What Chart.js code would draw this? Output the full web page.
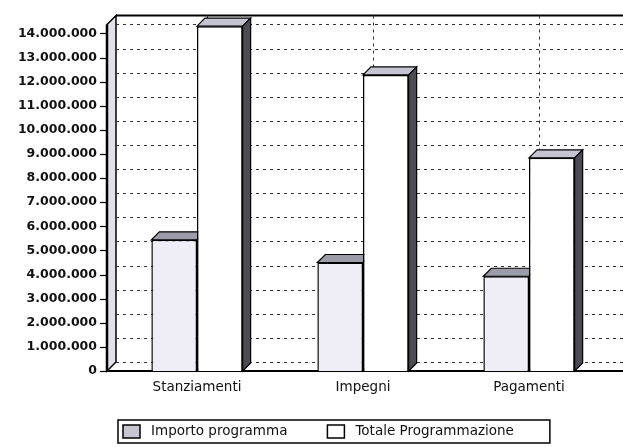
<!DOCTYPE html>
<html>
<head>
<meta charset="utf-8">
<script src="https://cdn.jsdelivr.net/npm/chart.js@4.4.1/dist/chart.umd.min.js"></script>
<style>
  html, body { margin: 0; padding: 0; background: #fff; }
  canvas { display: block; }
</style>
</head>
<body>
<canvas id="chart" width="623" height="447"></canvas>
<script>
const categories = ["Stanziamenti", "Impegni", "Pagamenti"];
const seriesLabels = ["Importo programma", "Totale Programmazione"];
const importoProgramma = [5440000, 4500000, 3930000];
const totaleProgrammazione = [14300000, 12280000, 8840000];
const yTicks = [
  0, 1000000, 2000000, 3000000, 4000000, 5000000, 6000000, 7000000,
  8000000, 9000000, 10000000, 11000000, 12000000, 13000000, 14000000,
];

const depth = 8;
const wallDepth = 9;

const formatNumber = (v) => String(v).replace(/\B(?=(\d{3})+(?!\d))/g, ".");

const poly = (ctx, pts, fill) => {
  ctx.beginPath();
  ctx.moveTo(pts[0][0], pts[0][1]);
  pts.slice(1).forEach((p) => ctx.lineTo(p[0], p[1]));
  ctx.closePath();
  ctx.fillStyle = fill;
  ctx.fill();
  ctx.stroke();
};

// walls, dotted grid and the top/side faces of the bars
const box3d = {
  id: "box3d",
  beforeDatasetsDraw(chart) {
    const { ctx, chartArea: a, scales } = chart;
    const x0 = a.left - 7;
    const xb = x0 + wallDepth;
    const top = a.top - wallDepth;
    const bottom = a.bottom - wallDepth;

    ctx.save();
    ctx.strokeStyle = "#000";

    // left wall
    ctx.lineWidth = 1.5;
    poly(ctx, [[x0, a.top], [xb, top], [xb, bottom], [x0, a.bottom]], "#e2e1ea");
    ctx.lineWidth = 2.5;
    ctx.beginPath();
    ctx.moveTo(x0, a.top);
    ctx.lineTo(x0, a.bottom);
    ctx.stroke();

    // top border of the back wall
    ctx.lineWidth = 2;
    ctx.beginPath();
    ctx.moveTo(xb, top);
    ctx.lineTo(chart.width, top);
    ctx.stroke();

    // dotted grid on the back wall
    ctx.lineWidth = 1;
    ctx.strokeStyle = "#333";
    ctx.setLineDash([3, 4]);
    yTicks.forEach((v) => {
      const y = Math.round(scales.y.getPixelForValue(v) - wallDepth) + 0.5;
      ctx.beginPath();
      ctx.moveTo(xb, y);
      ctx.lineTo(chart.width, y);
      ctx.stroke();
    });
    categories.forEach((c, i) => {
      const x = Math.round(scales.x.getPixelForValue(i) + wallDepth + 1) + 0.5;
      ctx.beginPath();
      ctx.moveTo(x, top);
      ctx.lineTo(x, bottom);
      ctx.stroke();
    });
    ctx.setLineDash([]);

    // floor front edge
    ctx.strokeStyle = "#000";
    ctx.lineWidth = 2;
    ctx.beginPath();
    ctx.moveTo(x0, a.bottom);
    ctx.lineTo(chart.width, a.bottom);
    ctx.stroke();

    // y tick marks
    ctx.lineWidth = 1.2;
    yTicks.forEach((v) => {
      const y = Math.round(scales.y.getPixelForValue(v)) + 0.5;
      ctx.beginPath();
      ctx.moveTo(x0 - 7, y);
      ctx.lineTo(x0, y);
      ctx.stroke();
    });

    // bar top and side faces
    ctx.lineWidth = 1.2;
    chart.data.datasets.forEach((ds, i) => {
      chart.getDatasetMeta(i).data.forEach((bar) => {
        const { x, y, base, width } = bar.getProps(["x", "y", "base", "width"], true);
        const l = x - width / 2;
        const r = x + width / 2;
        poly(ctx, [[l, y], [l + depth, y - depth], [r + depth, y - depth], [r, y]], ds.topColor);
        poly(ctx, [[r, y], [r + depth, y - depth], [r + depth, base - depth], [r, base]], ds.sideColor);
      });
    });
    ctx.restore();
  },
};

const boxedLegend = {
  id: "boxedLegend",
  afterDraw(chart) {
    const { ctx } = chart;
    ctx.save();
    ctx.font = "13.5px 'DejaVu Sans'";
    ctx.textBaseline = "middle";
    ctx.strokeStyle = "#000";
    let x = 123;
    const y = 431.5;
    chart.data.datasets.forEach((ds) => {
      ctx.lineWidth = 1.5;
      ctx.fillStyle = ds.legendColor;
      ctx.fillRect(x, y - 6.5, 17, 13);
      ctx.strokeRect(x, y - 6.5, 17, 13);
      ctx.fillStyle = "#111";
      ctx.fillText(ds.label, x + 28, y);
      x += 28 + ctx.measureText(ds.label).width + 40;
    });
    ctx.lineWidth = 1.5;
    ctx.strokeRect(118, 420, x - 40 + 36 - 118, 23);
    ctx.restore();
  },
};

Chart.defaults.font.family = "'DejaVu Sans'";
Chart.defaults.color = "#111";

new Chart(document.getElementById("chart"), {
  type: "bar",
  data: {
    labels: categories,
    datasets: [
      {
        label: seriesLabels[0],
        data: importoProgramma,
        backgroundColor: "#efeef6",
        borderColor: "#000",
        borderWidth: 1.5,
        topColor: "#9c9ca8",
        sideColor: "#8a8a96",
        legendColor: "#c6c5d0",
      },
      {
        label: seriesLabels[1],
        data: totaleProgrammazione,
        backgroundColor: "#ffffff",
        borderColor: "#000",
        borderWidth: 1.5,
        topColor: "#c4c4d2",
        sideColor: "#4c4c54",
        legendColor: "#ffffff",
      },
    ],
  },
  options: {
    responsive: false,
    animation: false,
    layout: { padding: { top: 20, right: 11, left: 0, bottom: 0 } },
    datasets: {
      bar: { categoryPercentage: 0.55, barPercentage: 1.0 },
    },
    plugins: {
      legend: { display: false },
      tooltip: { enabled: false },
    },
    scales: {
      x: {
        grid: { display: false, drawTicks: false },
        border: { display: false },
        ticks: { padding: 8, font: { size: 13.5 } },
        afterFit: (scale) => {
          scale.height = 76;
        },
      },
      y: {
        min: 0,
        max: 14370000,
        grid: { display: false, drawTicks: false },
        border: { display: false },
        afterBuildTicks: (scale) => {
          scale.ticks = yTicks.map((v) => ({ value: v }));
        },
        ticks: {
          padding: 17,
          font: { size: 12.5, weight: "bold" },
          callback: (v) => formatNumber(v),
        },
        afterFit: (scale) => {
          scale.width = 114;
        },
      },
    },
  },
  plugins: [box3d, boxedLegend],
});
</script>
</body>
</html>
